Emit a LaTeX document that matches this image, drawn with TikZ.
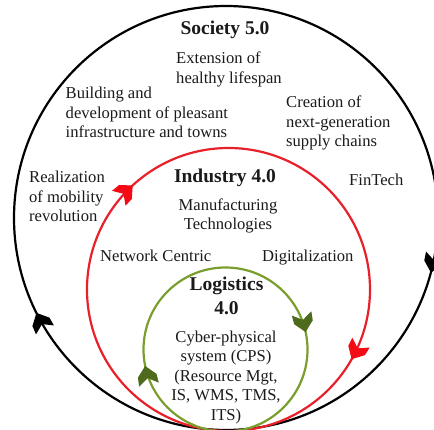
\documentclass[tikz,border=0pt]{standalone}
\usepackage{fontspec}
\setmainfont{Liberation Serif}

\definecolor{ink}{HTML}{1A1A1A}
\definecolor{ringred}{HTML}{E8202A}
\definecolor{headred}{HTML}{F20A14}
\definecolor{ringgreen}{HTML}{7A9E2E}
\definecolor{headgreen}{HTML}{4E6A1C}

\tikzset{
  ring/.style={line width=2.2pt},
  lbl/.style={inner sep=0pt, text=ink, font=\fontsize{16.6}{19.5}\selectfont},
  hd/.style={inner sep=0pt, text=ink, font=\bfseries\fontsize{19.5}{24}\selectfont},
  % notched arrowhead on a ring of radius #1: tip on the ring, pointing clockwise
  pics/cychead/.style={code={
    \fill (#1,0) -- (#1+9.5,10) -- (#1+10,19) -- (#1,12.5)
      -- (#1-10,19) -- (#1-9.5,10) -- cycle;}},
}

\begin{document}
\begin{tikzpicture}[x=1pt,y=1pt]
  \useasboundingbox (0,0) rectangle (434,429);
  \clip (0,0) rectangle (434,429);

  % ring centres
  \coordinate (soc) at (226,211);
  \coordinate (ind) at (228.5,139.5);
  \coordinate (log) at (225.5,79.5);

  % Society 5.0 ring
  \draw[ring, black] (soc) circle[radius=212];
  \pic[black, rotate=206.6] at (soc) {cychead=212};
  \pic[black, rotate=345.1] at (soc) {cychead=212};

  % Industry 4.0 ring
  \draw[ring, ringred] (ind) circle[radius=141.5];
  \pic[headred, rotate=132.6] at (ind) {cychead=141.5};
  \pic[headred, rotate=330.5] at (ind) {cychead=141.5};

  % Logistics 4.0 ring
  \draw[ring, ringgreen] (log) circle[radius=82];
  \pic[headgreen, rotate=12.3] at (log) {cychead=82};
  \pic[headgreen, rotate=191.6] at (log) {cychead=82};

  % Society 5.0 labels
  \node[hd, anchor=base] (tsoc) at (225,394) {Society 5.0};
  \node[lbl, anchor=base west] (tlife) at (176,365)
    {\begin{tabular}[t]{@{}l@{}}Extension of\\healthy lifespan\end{tabular}};
  \node[lbl, anchor=base west] (ttown) at (65.5,330)
    {\begin{tabular}[t]{@{}l@{}}Building and\\development of pleasant\\infrastructure and towns\end{tabular}};
  \node[lbl, anchor=base west] (tsupply) at (286,321)
    {\begin{tabular}[t]{@{}l@{}}Creation of\\next-generation\\supply chains\end{tabular}};
  \node[lbl, anchor=base west] (tfin) at (349,243) {FinTech};
  \node[lbl, anchor=base west] (tmob) at (29,246)
    {\begin{tabular}[t]{@{}l@{}}Realization\\of mobility\\revolution\end{tabular}};

  % Industry 4.0 labels
  \node[hd, anchor=base] (tind) at (225,246) {Industry 4.0};
  \node[lbl, anchor=base] (tman) at (228,218.5)
    {\begin{tabular}[t]{@{}c@{}}Manufacturing\\Technologies\end{tabular}};
  \node[lbl, anchor=base west] (tnet) at (100,167) {Network Centric};
  \node[lbl, anchor=base west] (tdig) at (262,167) {Digitalization};

  % Logistics 4.0 labels
  \node[hd, anchor=base] (tlog) at (226.5,139)
    {\begin{tabular}[t]{@{}c@{}}Logistics\\4.0\end{tabular}};
  \node[lbl, anchor=base] (tcps) at (226,87)
    {\begin{tabular}[t]{@{}c@{}}Cyber-physical\\system (CPS)\\(Resource Mgt,\\IS, WMS, TMS,\\ITS)\end{tabular}};
\end{tikzpicture}
\end{document}
